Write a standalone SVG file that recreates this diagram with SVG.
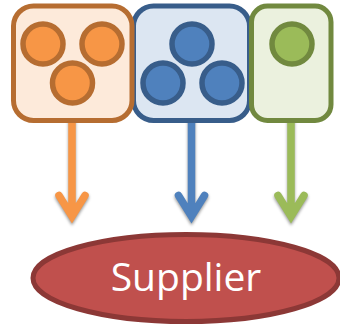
<svg xmlns="http://www.w3.org/2000/svg" width="340" height="324" viewBox="0 0 340 324">
<style>
.box{stroke-width:5}
.c{stroke-width:5.500}
.o{fill:#f79646;stroke:#b66d31}
.b{fill:#4f81bd;stroke:#385d8a}
.g{fill:#9bbb59;stroke:#71893f}
.a{fill:none;stroke-width:7.500;stroke-linecap:round;stroke-linejoin:miter}
.s{fill:none;stroke:#000;stroke-opacity:.4;stroke-width:7.500;stroke-linecap:round;filter:url(#blur)}
</style>
<defs>
<filter id="blur" x="-50%" y="-20%" width="200%" height="140%"><feGaussianBlur stdDeviation="1.500"/></filter>
<g id="arrowShape"><path d="M0 120V212M-13 195.500L0 216.500L13 195.500"/></g>
</defs>
<g id="connectors">
<use href="#arrowShape" x="72" y="0" class="s" transform="translate(0,2)"/>
<use href="#arrowShape" x="191.500" y="0" class="s" transform="translate(0,2)"/>
<use href="#arrowShape" x="291" y="0" class="s" transform="translate(0,2)"/>
<use href="#arrowShape" x="72" y="0" class="a" stroke="#f79646"/>
<use href="#arrowShape" x="191.500" y="0" class="a" stroke="#4f81bd"/>
<use href="#arrowShape" x="291" y="0" class="a" stroke="#9bbb59"/>
</g>
<g id="node-blue">
<rect class="box" x="133.500" y="6" width="116" height="114.500" rx="20" fill="#dce6f2" stroke="#385d8a"/>
<circle class="c b" cx="192" cy="44" r="20"/>
<circle class="c b" cx="163" cy="83" r="20"/>
<circle class="c b" cx="222" cy="83" r="20"/>
</g>
<g id="node-orange">
<rect class="box" x="13.500" y="6" width="118.500" height="114.500" rx="20" fill="#fdeada" stroke="#b66d31"/>
<circle class="c o" cx="43" cy="44" r="20"/>
<circle class="c o" cx="102" cy="44" r="20"/>
<circle class="c o" cx="72.500" cy="83" r="20"/>
</g>
<g id="node-green">
<rect class="box" x="251.500" y="6" width="79.500" height="114.500" rx="16" fill="#ebf1de" stroke="#71893f"/>
<circle class="c g" cx="292" cy="44" r="20"/>
</g>
<g id="node-supplier">
<ellipse cx="186" cy="278" rx="153" ry="43.500" fill="#c0504d" stroke="#8c3836" stroke-width="5"/>
<text x="186" y="291" text-anchor="middle" font-family="'Open Sans','Noto Sans',sans-serif" font-size="39" fill="#fff">Supplier</text>
</g>
</svg>
